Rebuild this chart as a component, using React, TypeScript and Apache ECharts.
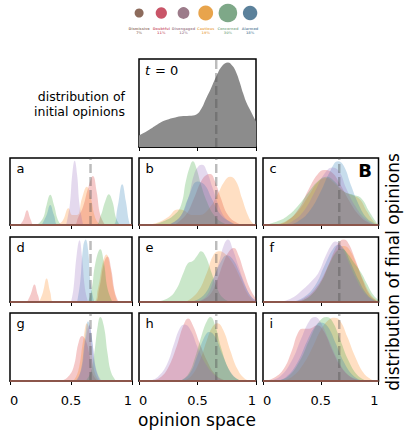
import React, { useEffect, useRef } from "react";
import * as echarts from "echarts";

// ---------- legend data ----------
const groupNames = ["Dismissive", "Doubtful", "Disengaged", "Cautious", "Concerned", "Alarmed"];
const groupPercents = [7, 11, 12, 19, 30, 18];
const legendColors = ["#8d6b5c", "#c95568", "#9c7b8a", "#e8a44c", "#7ea888", "#5b819b"];

// ---------- panel colours ----------
const colDoubtful = "#d62728";
const colCautious = "#ff7f0e";
const colConcerned = "#2ca02c";
const colAlarmed = "#1f77b4";
const colDisengaged = "#9467bd";
const colDismissive = "#8c564b";

const panelLetters = ["a", "b", "c", "d", "e", "f", "g", "h", "i"];
const xTicks = [0, 0.5, 1];
const meanOpinion = 0.66;

// ---------- initial distribution (t = 0) ----------
const initialDist = [
  [0, 0.13], [0.08, 0.19], [0.15, 0.25], [0.22, 0.3], [0.29, 0.33], [0.36, 0.35], [0.43, 0.355],
  [0.49, 0.37], [0.535, 0.44], [0.57, 0.54], [0.61, 0.65], [0.66, 0.8], [0.71, 0.92], [0.76, 0.96],
  [0.8, 0.92], [0.83, 0.85], [0.86, 0.74], [0.89, 0.61], [0.92, 0.5], [0.95, 0.42], [1, 0.29],
];

// ---------- final distributions, one small object per panel ----------
const panelA = {
  doubtful: [[0.08, 0], [0.11, 0.08], [0.14, 0.22], [0.17, 0.08], [0.2, 0], [0.52, 0], [0.56, 0.12], [0.6, 0.28], [0.64, 0.55], [0.68, 0.73], [0.71, 0.5], [0.74, 0.15], [0.78, 0]],
  cautious: [[0.38, 0], [0.43, 0.06], [0.48, 0.25], [0.51, 0.15], [0.55, 0.15], [0.59, 0.4], [0.63, 0.57], [0.66, 0.42], [0.7, 0.1], [0.74, 0]],
  concerned: [[0.22, 0], [0.27, 0.1], [0.3, 0.3], [0.33, 0.45], [0.36, 0.3], [0.4, 0.05], [0.44, 0], [0.7, 0], [0.74, 0.12], [0.78, 0.35], [0.81, 0.46], [0.84, 0.35], [0.87, 0.1], [0.9, 0]],
  alarmed: [[0.26, 0], [0.3, 0.15], [0.33, 0.3], [0.36, 0.15], [0.4, 0], [0.84, 0], [0.88, 0.25], [0.92, 0.61], [0.95, 0.35], [0.98, 0.02], [1, 0]],
  disengaged: [[0.46, 0], [0.49, 0.3], [0.51, 0.75], [0.53, 0.96], [0.55, 0.75], [0.57, 0.3], [0.6, 0]],
};
const panelB = {
  doubtful: [[0.3, 0], [0.4, 0.15], [0.47, 0.4], [0.53, 0.65], [0.58, 0.75], [0.61, 0.76], [0.65, 0.65], [0.7, 0.4], [0.76, 0.15], [0.84, 0.03], [0.9, 0]],
  cautious: [[0.05, 0], [0.15, 0.03], [0.25, 0.12], [0.33, 0.23], [0.38, 0.22], [0.45, 0.15], [0.52, 0.15], [0.6, 0.25], [0.67, 0.45], [0.73, 0.65], [0.78, 0.72], [0.83, 0.65], [0.88, 0.4], [0.93, 0.15], [0.97, 0.03], [1, 0]],
  concerned: [[0.1, 0], [0.2, 0.05], [0.3, 0.15], [0.36, 0.3], [0.4, 0.65], [0.44, 0.9], [0.46, 0.95], [0.49, 0.85], [0.53, 0.6], [0.58, 0.35], [0.64, 0.15], [0.72, 0.03], [0.8, 0]],
  alarmed: [[0.25, 0], [0.35, 0.12], [0.42, 0.4], [0.5, 0.65], [0.56, 0.6], [0.62, 0.4], [0.7, 0.15], [0.8, 0.03], [0.85, 0]],
  disengaged: [[0.25, 0], [0.35, 0.12], [0.42, 0.4], [0.47, 0.75], [0.51, 0.88], [0.54, 0.9], [0.58, 0.8], [0.63, 0.55], [0.68, 0.3], [0.74, 0.1], [0.82, 0]],
};
const panelC = {
  doubtful: [[0.1, 0], [0.2, 0.05], [0.3, 0.22], [0.4, 0.55], [0.47, 0.75], [0.53, 0.82], [0.6, 0.78], [0.67, 0.6], [0.75, 0.35], [0.83, 0.15], [0.92, 0.03], [1, 0]],
  cautious: [[0.1, 0], [0.2, 0.06], [0.3, 0.2], [0.4, 0.45], [0.48, 0.65], [0.55, 0.7], [0.62, 0.62], [0.7, 0.5], [0.78, 0.44], [0.84, 0.38], [0.9, 0.2], [0.96, 0.05], [1, 0]],
  concerned: [[0.02, 0], [0.1, 0.04], [0.2, 0.12], [0.3, 0.28], [0.4, 0.5], [0.48, 0.66], [0.55, 0.72], [0.62, 0.65], [0.7, 0.5], [0.78, 0.45], [0.85, 0.4], [0.92, 0.2], [0.98, 0.04], [1, 0]],
  alarmed: [[0.2, 0], [0.3, 0.05], [0.4, 0.2], [0.5, 0.5], [0.58, 0.8], [0.65, 0.95], [0.7, 0.88], [0.76, 0.6], [0.83, 0.3], [0.9, 0.1], [0.97, 0.02], [1, 0]],
  disengaged: [[0.15, 0], [0.25, 0.05], [0.35, 0.2], [0.45, 0.5], [0.53, 0.76], [0.6, 0.86], [0.66, 0.8], [0.72, 0.55], [0.8, 0.28], [0.88, 0.1], [0.95, 0.02], [1, 0]],
};
const panelD = {
  doubtful: [[0.14, 0], [0.17, 0.12], [0.2, 0.27], [0.23, 0.1], [0.26, 0], [0.69, 0], [0.73, 0.2], [0.77, 0.6], [0.8, 0.7], [0.83, 0.5], [0.86, 0.15], [0.89, 0]],
  cautious: [[0.24, 0], [0.27, 0.15], [0.3, 0.36], [0.33, 0.15], [0.36, 0], [0.68, 0], [0.72, 0.2], [0.76, 0.6], [0.79, 0.73], [0.82, 0.55], [0.85, 0.2], [0.88, 0]],
  concerned: [[0.64, 0], [0.67, 0.2], [0.7, 0.6], [0.74, 0.81], [0.77, 0.6], [0.8, 0.2], [0.84, 0]],
  alarmed: [[0.55, 0], [0.575, 0.3], [0.6, 0.85], [0.62, 0.96], [0.64, 0.8], [0.66, 0.3], [0.69, 0]],
  disengaged: [[0.5, 0], [0.52, 0.2], [0.545, 0.7], [0.57, 0.95], [0.59, 0.7], [0.615, 0.2], [0.64, 0]],
};
const panelE = {
  doubtful: [[0.5, 0], [0.6, 0.1], [0.67, 0.35], [0.72, 0.6], [0.77, 0.78], [0.81, 0.83], [0.85, 0.72], [0.9, 0.45], [0.95, 0.2], [1, 0.05]],
  cautious: [[0.4, 0], [0.5, 0.15], [0.58, 0.45], [0.63, 0.7], [0.68, 0.78], [0.73, 0.75], [0.8, 0.6], [0.87, 0.35], [0.93, 0.12], [0.98, 0.02], [1, 0]],
  concerned: [[0.15, 0], [0.25, 0.06], [0.32, 0.2], [0.38, 0.45], [0.42, 0.6], [0.46, 0.63], [0.5, 0.72], [0.53, 0.78], [0.57, 0.7], [0.62, 0.45], [0.67, 0.2], [0.72, 0.06], [0.78, 0]],
  alarmed: [[0.45, 0], [0.55, 0.1], [0.63, 0.35], [0.7, 0.62], [0.75, 0.72], [0.8, 0.66], [0.86, 0.45], [0.92, 0.2], [0.97, 0.06], [1, 0.02]],
  disengaged: [[0.5, 0], [0.58, 0.1], [0.64, 0.35], [0.69, 0.65], [0.73, 0.9], [0.76, 0.96], [0.8, 0.82], [0.85, 0.55], [0.9, 0.3], [0.95, 0.1], [1, 0.02]],
};
const panelF = {
  doubtful: [[0.25, 0], [0.35, 0.05], [0.45, 0.2], [0.55, 0.5], [0.62, 0.8], [0.67, 0.94], [0.7, 0.96], [0.74, 0.9], [0.8, 0.65], [0.86, 0.35], [0.92, 0.12], [0.98, 0.02], [1, 0]],
  cautious: [[0.3, 0], [0.4, 0.08], [0.5, 0.3], [0.58, 0.62], [0.65, 0.82], [0.7, 0.86], [0.75, 0.8], [0.81, 0.58], [0.87, 0.33], [0.93, 0.12], [0.98, 0.03], [1, 0]],
  concerned: [[0.3, 0], [0.4, 0.08], [0.5, 0.3], [0.58, 0.6], [0.64, 0.78], [0.68, 0.82], [0.73, 0.75], [0.79, 0.6], [0.85, 0.45], [0.9, 0.28], [0.95, 0.12], [1, 0.03]],
  alarmed: [[0.25, 0], [0.35, 0.07], [0.45, 0.25], [0.53, 0.55], [0.6, 0.8], [0.65, 0.88], [0.7, 0.82], [0.76, 0.6], [0.83, 0.33], [0.9, 0.12], [0.97, 0.02], [1, 0]],
  disengaged: [[0.15, 0], [0.25, 0.06], [0.35, 0.2], [0.42, 0.32], [0.48, 0.45], [0.54, 0.7], [0.6, 0.9], [0.63, 0.93], [0.68, 0.85], [0.74, 0.62], [0.8, 0.38], [0.87, 0.16], [0.94, 0.04], [1, 0]],
};
const panelG = {
  doubtful: [[0.42, 0], [0.47, 0.05], [0.52, 0.2], [0.56, 0.55], [0.59, 0.66], [0.62, 0.6], [0.65, 0.4], [0.68, 0.1], [0.72, 0]],
  cautious: [[0.52, 0], [0.56, 0.15], [0.6, 0.6], [0.63, 0.85], [0.66, 0.6], [0.69, 0.15], [0.73, 0]],
  concerned: [[0.62, 0], [0.66, 0.12], [0.69, 0.4], [0.72, 0.82], [0.74, 0.94], [0.77, 0.8], [0.8, 0.4], [0.83, 0.12], [0.87, 0]],
  alarmed: [[0.54, 0], [0.58, 0.15], [0.61, 0.55], [0.64, 0.88], [0.67, 0.65], [0.7, 0.2], [0.74, 0]],
  disengaged: [[0.55, 0], [0.59, 0.2], [0.62, 0.6], [0.65, 0.82], [0.68, 0.5], [0.71, 0.15], [0.75, 0]],
};
const panelH = {
  doubtful: [[0.1, 0], [0.18, 0.05], [0.25, 0.2], [0.32, 0.5], [0.38, 0.82], [0.42, 0.92], [0.46, 0.82], [0.52, 0.55], [0.58, 0.3], [0.65, 0.1], [0.72, 0.02], [0.78, 0]],
  cautious: [[0.38, 0], [0.45, 0.08], [0.52, 0.3], [0.58, 0.6], [0.63, 0.8], [0.67, 0.85], [0.72, 0.75], [0.78, 0.45], [0.84, 0.18], [0.9, 0.04], [0.95, 0]],
  concerned: [[0.35, 0], [0.42, 0.1], [0.48, 0.35], [0.54, 0.7], [0.58, 0.88], [0.61, 0.94], [0.65, 0.82], [0.7, 0.5], [0.76, 0.2], [0.82, 0.05], [0.88, 0]],
  alarmed: [[0.35, 0], [0.43, 0.1], [0.5, 0.38], [0.56, 0.65], [0.6, 0.72], [0.65, 0.65], [0.71, 0.4], [0.78, 0.14], [0.85, 0.02], [0.9, 0]],
  disengaged: [[0.08, 0], [0.16, 0.06], [0.24, 0.25], [0.3, 0.55], [0.35, 0.78], [0.39, 0.83], [0.44, 0.75], [0.5, 0.5], [0.57, 0.25], [0.65, 0.08], [0.72, 0]],
};
const panelI = {
  doubtful: [[0.02, 0], [0.1, 0.05], [0.18, 0.18], [0.25, 0.45], [0.3, 0.7], [0.34, 0.77], [0.4, 0.77], [0.47, 0.82], [0.53, 0.72], [0.6, 0.45], [0.67, 0.22], [0.75, 0.07], [0.83, 0.01], [0.88, 0]],
  cautious: [[0.15, 0], [0.25, 0.06], [0.35, 0.25], [0.43, 0.5], [0.5, 0.75], [0.57, 0.9], [0.62, 0.93], [0.67, 0.88], [0.73, 0.65], [0.8, 0.35], [0.87, 0.12], [0.93, 0.03], [0.98, 0]],
  concerned: [[0.12, 0], [0.22, 0.07], [0.32, 0.3], [0.4, 0.6], [0.48, 0.86], [0.55, 0.94], [0.6, 0.88], [0.67, 0.6], [0.74, 0.3], [0.82, 0.08], [0.9, 0]],
  alarmed: [[0.1, 0], [0.2, 0.06], [0.3, 0.28], [0.38, 0.58], [0.45, 0.8], [0.5, 0.86], [0.56, 0.8], [0.63, 0.55], [0.7, 0.28], [0.78, 0.08], [0.86, 0]],
  disengaged: [[0.05, 0], [0.15, 0.07], [0.25, 0.3], [0.33, 0.62], [0.4, 0.88], [0.45, 0.94], [0.5, 0.86], [0.57, 0.6], [0.65, 0.3], [0.73, 0.1], [0.82, 0.02], [0.88, 0]],
};
const panels = [panelA, panelB, panelC, panelD, panelE, panelF, panelG, panelH, panelI];

// ---------- layout ----------
const FONT = "DejaVu Sans";
const colLeft = [10, 139, 263];
const colWidth = [122, 117, 115.5];
const rowTop = [158, 237, 313];
const rowHeight = [67, 65, 68];
const t0Box = { left: 139, top: 59, width: 117, height: 88 };
const FILL_OPACITY = 0.25;

function buildOption() {
  const grids: any[] = [];
  const xAxes: any[] = [];
  const yAxes: any[] = [];
  const series: any[] = [];

  const addPanel = (box: any, showLabels: boolean) => {
    const gi = grids.length;
    grids.push({ ...box, show: true, borderColor: "#000", borderWidth: 1.5, backgroundColor: "transparent", containLabel: false });
    xAxes.push({
      gridIndex: gi, type: "value", min: xTicks[0], max: xTicks[xTicks.length - 1], interval: xTicks[1] - xTicks[0],
      axisLine: { show: true, lineStyle: { color: "#000", width: 1.5 } },
      axisTick: { show: true, length: 4, inside: false, lineStyle: { color: "#000", width: 1 } },
      axisLabel: {
        show: showLabels, fontSize: 13, color: "#000", fontFamily: FONT, margin: 13,
        showMinLabel: true, showMaxLabel: true, alignMinLabel: "left", alignMaxLabel: "right",
      },
      splitLine: { show: false },
    });
    yAxes.push({ gridIndex: gi, type: "value", min: 0, max: 1, show: false, splitLine: { show: false } });
    return gi;
  };

  const area = (gi: number, data: number[][], color: string) => ({
    type: "line", xAxisIndex: gi, yAxisIndex: gi, data, smooth: 0.45,
    symbol: "none", silent: true, z: 2,
    lineStyle: { width: 0, color, opacity: 0 },
    areaStyle: { color, opacity: FILL_OPACITY },
  });
  const overlays = (gi: number) => {
    series.push({
      type: "line", xAxisIndex: gi, yAxisIndex: gi, data: [[meanOpinion, 0], [meanOpinion, 1]],
      symbol: "none", silent: true, z: 3,
      lineStyle: { color: "rgba(80,80,80,0.38)", width: 2.5, type: [9, 4] },
    });
  };

  // legend grid
  const lg = grids.length;
  grids.push({ left: 128, top: 0, width: 133.2, height: 40, show: false });
  xAxes.push({ gridIndex: lg, type: "category", data: groupNames, show: false, boundaryGap: true });
  yAxes.push({ gridIndex: lg, type: "value", min: 0, max: 1, show: false });
  series.push({
    type: "scatter", xAxisIndex: lg, yAxisIndex: lg, silent: true,
    data: groupPercents.map((p, i) => ({
      value: [i, 0.675], symbolSize: 3.4 * Math.sqrt(p), itemStyle: { color: legendColors[i], opacity: 1 },
    })),
  });
  series.push({
    type: "scatter", xAxisIndex: lg, yAxisIndex: lg, silent: true, symbolSize: 0,
    data: groupPercents.map((p, i) => ({
      value: [i, 0.22],
      label: {
        show: true, position: "inside", formatter: `${groupNames[i]}\n${p}%`,
        color: legendColors[i], fontSize: 3.5, lineHeight: 4.4, fontFamily: FONT, fontWeight: "bold",
      },
    })),
  });

  // t = 0 panel
  const g0 = addPanel(t0Box, false);
  series.push({
    type: "line", xAxisIndex: g0, yAxisIndex: g0, data: initialDist, smooth: 0.45,
    symbol: "none", silent: true, z: 2, lineStyle: { width: 0, opacity: 0 },
    areaStyle: { color: "#8c8c8c", opacity: 1 },
  });
  overlays(g0);

  panels.forEach((p, k) => {
    const r = Math.floor(k / 3);
    const c = k % 3;
    const gi = addPanel({ left: colLeft[c], top: rowTop[r], width: colWidth[c], height: rowHeight[r] }, r === 2);
    series.push(area(gi, p.doubtful, colDoubtful));
    series.push(area(gi, p.cautious, colCautious));
    series.push(area(gi, p.concerned, colConcerned));
    series.push(area(gi, p.alarmed, colAlarmed));
    series.push(area(gi, p.disengaged, colDisengaged));
    overlays(gi);
    series.push({
      type: "line", xAxisIndex: gi, yAxisIndex: gi, data: [[0, 0], [1, 0]], symbol: "none", silent: true, z: 4,
      lineStyle: { color: colDismissive, width: 2 },
    });
  });

  const graphic: any[] = [
    { type: "text", x: 145, y: 70, style: { text: "t", font: `italic 13px "${FONT}"`, fill: "#000", textVerticalAlign: "middle" } },
    { type: "text", x: 155, y: 70, style: { text: "= 0", font: `13px "${FONT}"`, fill: "#000", textVerticalAlign: "middle" } },
    {
      type: "text", x: 125, y: 103.5,
      style: { text: "distribution of\ninitial opinions", font: `12.5px "${FONT}"`, lineHeight: 15, fill: "#000", textAlign: "right", textVerticalAlign: "middle" },
    },
    { type: "text", x: 365, y: 170, style: { text: "B", font: `bold 18px "${FONT}"`, fill: "#000", textAlign: "center", textVerticalAlign: "middle" } },
    { type: "text", x: 197, y: 420, style: { text: "opinion space", font: `17px "${FONT}"`, fill: "#000", textAlign: "center", textVerticalAlign: "middle" } },
    {
      type: "text", x: 393, y: 272, rotation: Math.PI / 2,
      style: { text: "distribution of final opinions", font: `17px "${FONT}"`, fill: "#000", textAlign: "center", textVerticalAlign: "middle" },
    },
  ];
  panelLetters.forEach((l, k) => {
    const r = Math.floor(k / 3);
    const c = k % 3;
    graphic.push({
      type: "text", x: colLeft[c] + 6.5, y: rowTop[r] + 10,
      style: { text: l, font: `13px "${FONT}"`, fill: "#000", textVerticalAlign: "middle" },
    });
  });

  return {
    animation: false,
    backgroundColor: "#fff",
    textStyle: { fontFamily: FONT },
    grid: grids,
    xAxis: xAxes,
    yAxis: yAxes,
    series,
    graphic,
  };
}

export default function App() {
  const ref = useRef<HTMLDivElement>(null);
  useEffect(() => {
    if (!ref.current) return;
    const chart = echarts.init(ref.current, null, { renderer: "svg" });
    chart.setOption(buildOption() as any);
    return () => chart.dispose();
  }, []);
  return <div ref={ref} style={{ position: "absolute", left: 0, top: 0, width: 407, height: 430 }} />;
}
